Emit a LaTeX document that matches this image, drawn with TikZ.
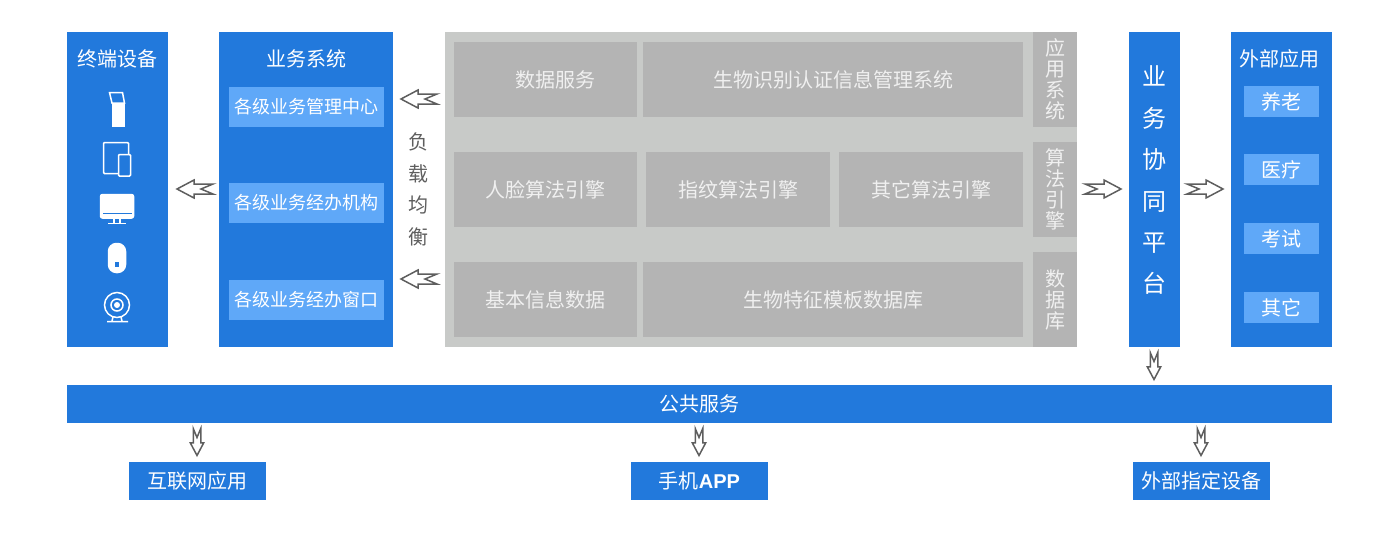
\documentclass[tikz,border=0pt]{standalone}
\usepackage{fontspec}
\setmainfont{Noto Sans CJK SC}
\newfontfamily\latinfont{Liberation Sans}
\usepackage{xcolor}
\usetikzlibrary{positioning}

\definecolor{barblue}{HTML}{2279DC}
\definecolor{lightblue}{HTML}{5FA8F8}
\definecolor{panelgray}{HTML}{C8CAC8}
\definecolor{cellgray}{HTML}{B4B4B4}
\definecolor{arrowgray}{HTML}{5E5E5E}

\tikzset{
	x=1pt, y=-1pt,
	base/.style={inner sep=0pt, outer sep=0pt, text=white, align=center, font=\fontsize{20pt}{24pt}\selectfont},
	bar/.style={base, fill=barblue, minimum height=315pt},
	inner/.style={base, fill=lightblue, font=\fontsize{18pt}{22pt}\selectfont},
	cell/.style={base, fill=cellgray, text=white!94!black, minimum height=75pt},
	side/.style={base, fill=cellgray, text=white!94!black, minimum width=44pt, minimum height=95pt, font=\fontsize{20pt}{21pt}\selectfont},
	leaf/.style={base, fill=barblue, minimum width=137pt, minimum height=38pt},
	title/.style={base},
	icon/.style={draw=white, line width=1.5pt},
	flowarrow/.pic={
		\draw[draw=arrowgray, fill=white, line width=1.5pt] (-18,-5) -- (1,-5) -- (1,-9) -- (18,0) -- (1,9) -- (1,5) -- (-18,5) -- (-6,0) -- cycle;
	}
}

\begin{document}
\begin{tikzpicture}
	\useasboundingbox (0,0) rectangle (1400,533);

	% top row
	\node[bar, minimum width=101pt] (terminal) at (117.5,189.5) {};
	\node[bar, minimum width=174pt, right=51pt of terminal] (business) {};
	\node[base, fill=panelgray, minimum width=632pt, minimum height=315pt, right=52pt of business] (platform) {};
	\node[bar, minimum width=51pt, right=52pt of platform] (collab) {};
	\node[bar, minimum width=101pt, right=51pt of collab] (external) {};

	\node[title] (terminaltitle) at (117.5,59) {终端设备};
	\node[title] (businesstitle) at (306,59) {业务系统};
	\node[title] (externaltitle) at (1279.5,59) {外部应用};
	\node[base, font=\fontsize{24pt}{41.4pt}\selectfont] (collabtitle) at (1154.5,180.5) {业\\务\\协\\同\\平\\台};

	% business system
	\node[inner, minimum width=155pt, minimum height=40pt] (center) at (306.5,107) {各级业务管理中心};
	\node[inner, minimum width=155pt, minimum height=40pt, below=56pt of center] (agency) {各级业务经办机构};
	\node[inner, minimum width=155pt, minimum height=40pt, below=57pt of agency] (window) {各级业务经办窗口};

	% external applications
	\node[inner, minimum width=75pt, minimum height=31pt, font=\fontsize{20pt}{24pt}\selectfont] (care) at (1281.5,101.5) {养老};
	\node[inner, minimum width=75pt, minimum height=31pt, font=\fontsize{20pt}{24pt}\selectfont, below=37pt of care] (medical) {医疗};
	\node[inner, minimum width=75pt, minimum height=31pt, font=\fontsize{20pt}{24pt}\selectfont, below=38pt of medical] (exam) {考试};
	\node[inner, minimum width=75pt, minimum height=31pt, font=\fontsize{20pt}{24pt}\selectfont, below=38pt of exam] (other) {其它};

	% cells of the platform
	\node[cell, minimum width=183pt] (dataservice) at (545.5,79.5) {\hspace*{20pt}数据服务};
	\node[cell, minimum width=380pt, right=6pt of dataservice] (biomanage) {生物识别认证信息管理系统};
	\node[cell, minimum width=183pt, below=35pt of dataservice] (face) {人脸算法引擎};
	\node[cell, minimum width=184pt, right=9pt of face] (finger) {指纹算法引擎};
	\node[cell, minimum width=184pt, right=9pt of finger] (otheralgo) {其它算法引擎};
	\node[cell, minimum width=183pt, below=35pt of face] (basicdata) {基本信息数据};
	\node[cell, minimum width=380pt, right=6pt of basicdata] (template) {生物特征模板数据库};

	\node[side] (appsys) at (1055,79.5) {应\\用\\系\\统};
	\node[side, below=15pt of appsys] (algo) {算\\法\\引\\擎};
	\node[side, below=15pt of algo] (database) {数\\据\\库};

	\node[base, text=arrowgray, font=\fontsize{20pt}{31.7pt}\selectfont] (balance) at (418,189.5) {负\\载\\均\\衡};

	% bottom rows
	\node[base, fill=barblue, minimum width=1265pt, minimum height=38pt] (public) at (699.5,404) {公共服务};
	\node[leaf] (internet) at (197.5,481) {互联网应用};
	\node[leaf] (mobile) at (699.5,481) {手机{\latinfont\bfseries APP}};
	\node[leaf] (device) at (1201.5,481) {外部指定设备};

	% arrows
	\pic[rotate=180] (toterminal) at (195,189) {flowarrow};
	\pic[rotate=180] (tobusinessa) at (419,99) {flowarrow};
	\pic[rotate=180] (tobusinessb) at (419,279) {flowarrow};
	\pic (tocollab) at (1103,189) {flowarrow};
	\pic (toexternal) at (1205,189) {flowarrow};
	\pic[rotate=-90, scale=.75] (topublic) at (1154,366) {flowarrow};
	\pic[rotate=-90, scale=.75] (tointernet) at (197,442) {flowarrow};
	\pic[rotate=-90, scale=.75] (tomobile) at (699,442) {flowarrow};
	\pic[rotate=-90, scale=.75] (todevice) at (1201,442) {flowarrow};

	% kiosk
	\draw[icon, fill=white] (112.5,105) rectangle (124.5,126.5);
	\draw[icon] (109.5,92.5) -- (122.5,92.5) -- (124.5,103) -- (112,103) -- cycle;
	% tablet and phone
	\draw[icon, rounded corners=1pt] (103.5,142.5) rectangle (128.5,173.5);
	\draw[icon, fill=barblue, rounded corners=1pt] (118.5,154.5) rectangle (130.5,176);
	% monitor
	\draw[icon, fill=white, rounded corners=2pt] (100.5,194.5) rectangle (133.5,218);
	\draw[draw=barblue, line width=1.6pt] (103,213.5) -- (132,213.5);
	\draw[icon] (114,219) -- (114,223) (120,219) -- (120,223) (108,223.5) -- (126,223.5);
	% mouse
	\draw[icon, fill=white, rounded corners=8pt] (108.5,243.5) rectangle (125.5,272.5);
	\fill[barblue] (115,262) rectangle (119,267);
	% camera
	\draw[icon] (117,305) circle (12.5);
	\draw[icon] (117,305) circle (6);
	\fill[white] (117,305) circle (3);
	\draw[icon] (113,317) -- (112,321) (121,317) -- (122,321) (107,321.5) -- (128,321.5);
\end{tikzpicture}
\end{document}
